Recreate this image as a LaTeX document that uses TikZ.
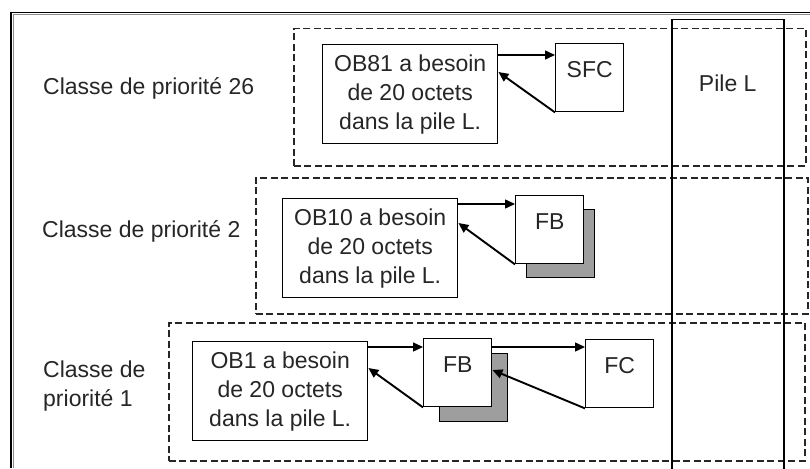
\documentclass[tikz,border=0pt]{standalone}
\usepackage{fontspec}
\setmainfont{Liberation Sans}
\usepackage{tikz}
\usetikzlibrary{arrows.meta,positioning}

\begin{document}
\begin{tikzpicture}[
    x=1pt, y=-1pt,
    font=\fontsize{23}{29}\selectfont,
    every node/.style={text=black!85},
    prio/.style={draw=black!85, dash pattern=on 7pt off 3.5pt, line width=1.5pt, anchor=north west, inner sep=0pt},
    classe/.style={anchor=west, align=left, inner sep=0pt},
    obbox/.style={draw, line width=1.4pt, fill=white, align=center, anchor=north west, minimum width=175pt, minimum height=99pt, inner sep=0pt},
    blk/.style={draw, line width=1.4pt, fill=white, anchor=north west, minimum width=68pt, minimum height=68pt, inner sep=0pt},
    blkshadow/.style={blk, fill=black!38},
    blktext/.style={anchor=north, inner sep=0pt, yshift=-18pt},
    arrow/.style={-{Triangle[length=10pt,width=9pt]}, line width=1.4pt},
    back/.style={arrow, line width=1.9pt}
]
\useasboundingbox (0,0) rectangle (810,468);

% cadre
\draw[line width=1.6pt] (11,468) -- (11,12.5) -- (810,12.5);
\draw[black!45, line width=0.8pt] (13.4,468) -- (13.4,14.8) -- (810,14.8);

% classes de priorite
\node[prio, minimum width=512pt, minimum height=137pt] (p26) at (293,28) {};
\node[prio, minimum width=552pt, minimum height=136pt] (p2) at (255,177) {};
\node[prio, minimum width=636pt, minimum height=138pt] (p1) at (168,322) {};

\node[classe] (c26) at (43,88) {Classe de priorité 26};
\node[classe] (c2) at (42,231) {Classe de priorité 2};
\node[classe] (c1) at (43,386) {Classe de\\priorité 1};

% pile L
\node[draw, line width=1.5pt, anchor=north west, minimum width=112pt, minimum height=470pt,
      label={[blktext, yshift=-38pt]north:Pile L}] (pile) at (671,19) {};

% OB81
\node[obbox] (ob81) at (322,44) {OB81 a besoin\\de 20 octets\\dans la pile L.};
\node[blk, label={[blktext]north:SFC}] (sfc) at (555,43) {};

% OB10
\node[obbox] (ob10) at (282,198) {OB10 a besoin\\de 20 octets\\dans la pile L.};
\node[blkshadow] (fb2s) at (526,209) {};
\node[blk, label={[blktext]north:FB}] (fb2) at (515,195) {};

% OB1
\node[obbox] (ob1) at (192,341) {OB1 a besoin\\de 20 octets\\dans la pile L.};
\node[blkshadow] (fb3s) at (439,353) {};
\node[blk, label={[blktext]north:FB}] (fb3) at (423,338) {};
\node[blk, label={[blktext]north:FC}] (fc) at (585,339) {};

\draw[arrow] ([yshift=-11pt]ob81.north east) -- ([yshift=-12pt]sfc.north west);
\draw[back] (sfc.south west) -- ([yshift=-28pt]ob81.north east);

\draw[arrow] ([yshift=-6pt]ob10.north east) -- ([yshift=-9pt]fb2.north west);
\draw[back] (fb2.south west) -- ([yshift=-25pt]ob10.north east);

\draw[arrow] ([yshift=-6pt]ob1.north east) -- ([yshift=-9pt]fb3.north west);
\draw[back] (fb3.south west) -- ([yshift=-27pt]ob1.north east);
\draw[arrow] ([yshift=-9pt]fb3.north east) -- ([yshift=-8pt]fc.north west);
\draw[back] (fc.south west) -- ([yshift=-32pt]fb3.north east);

\end{tikzpicture}
\end{document}
